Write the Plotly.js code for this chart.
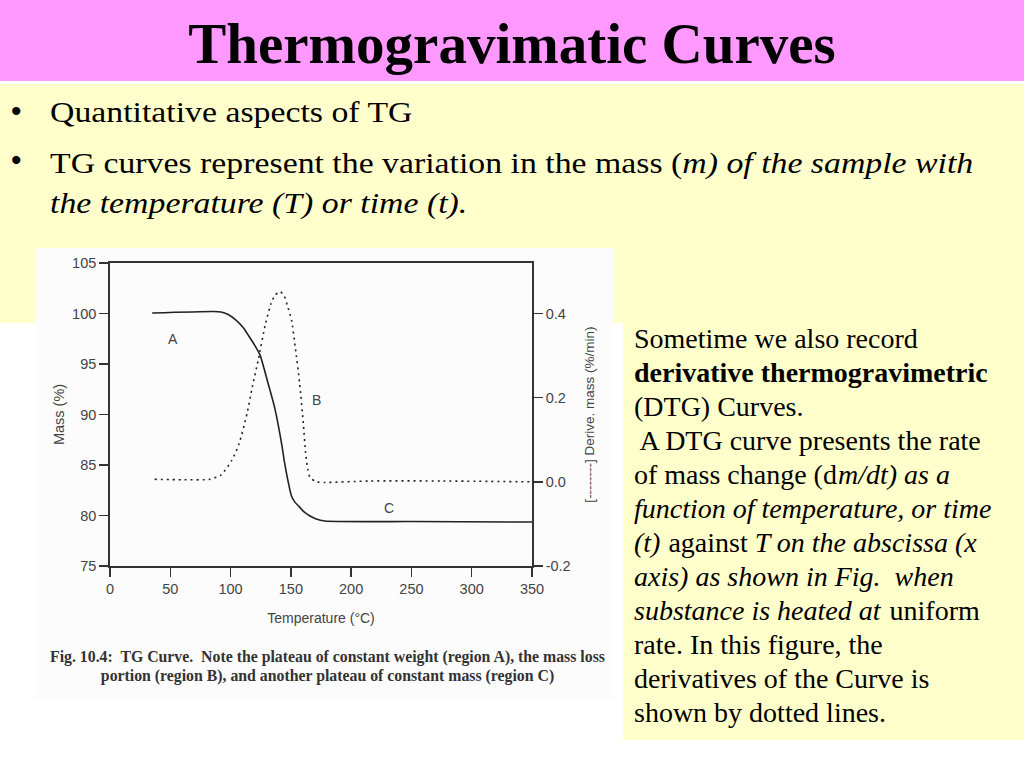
<!DOCTYPE html>
<html>
<head>
<meta charset="utf-8">
<script src="https://cdn.plot.ly/plotly-3.0.1.min.js"></script>
<style>
  html, body { margin: 0; padding: 0; background: #ffffff; }
  #slide { position: relative; width: 1024px; height: 768px; overflow: hidden; background: #ffffff;
           font-family: "Liberation Serif", "Times New Roman", serif; color: #000; }
  .abs { position: absolute; }
  #head { left: 0; top: 0; width: 1024px; height: 81px; background: #ff99ff; }
  #band { left: 0; top: 84px; width: 1024px; height: 239px; background: #ffffcc; }
  #sidebox { left: 623px; top: 322px; width: 401px; height: 418px; background: #ffffcc; }
  #title { left: 0; top: 15px; width: 1024px; text-align: center; font-size: 57px; line-height: 57px; font-weight: bold; }
  .bul { font-family: "Liberation Sans", Arial, sans-serif; font-size: 30px; line-height: 30px; left: 11px; }
  .line { left: 50px; font-size: 29px; line-height: 40px; white-space: pre; transform: scaleX(1.165); transform-origin: left; }
  .sl { left: 634px; font-size: 28px; line-height: 34px; white-space: pre; }
  #chartbox { left: 35px; top: 248px; width: 578px; height: 452px; background: #fcfcfc; }
  #chart { left: 35px; top: 248px; width: 578px; height: 452px; }
  #caption { left: 35px; top: 647px; width: 585px; text-align: center; font-size: 15.8px; line-height: 19px;
             font-weight: bold; color: #333; white-space: pre; }
</style>
</head>
<body>
<div id="slide">
  <div id="head" class="abs"></div>
  <div id="band" class="abs"></div>
  <div id="sidebox" class="abs"></div>
  <div id="title" class="abs">Thermogravimatic Curves</div>

  <div class="abs bul" style="top:96px;">•</div>
  <div class="abs line" style="top:92px;">Quantitative aspects of TG</div>
  <div class="abs bul" style="top:145px;">•</div>
  <div class="abs line" style="top:143px;">TG curves represent the variation in the mass (<i>m) of the sample with</i></div>
  <div class="abs line" style="top:183px;"><i>the temperature (T) or time (t).</i></div>

  <div id="chartbox" class="abs"></div>
  <div id="chart" class="abs"></div>
  <div id="caption" class="abs">Fig. 10.4:  TG Curve.  Note the plateau of constant weight (region A), the mass loss
portion (region B), and another plateau of constant mass (region C)</div>

  <div class="abs sl" style="top:322px;">Sometime we also record</div>
  <div class="abs sl" style="top:356px;"><b>derivative thermogravimetric</b></div>
  <div class="abs sl" style="top:390px;">(DTG) Curves.</div>
  <div class="abs sl" style="top:424px;"> A DTG curve presents the rate</div>
  <div class="abs sl" style="top:458px;">of mass change (d<i style="margin-left:1px;">m/dt) as a</i></div>
  <div class="abs sl" style="top:492px;"><i>function of temperature, or time</i></div>
  <div class="abs sl" style="top:526px;"><i style="margin-right:1px;">(t)</i> against <i>T on the abscissa (x</i></div>
  <div class="abs sl" style="top:560px;"><i>axis) as shown in Fig.  when</i></div>
  <div class="abs sl" style="top:594px;"><i style="margin-right:2px;">substance is heated at</i> uniform</div>
  <div class="abs sl" style="top:628px;">rate. In this figure, the</div>
  <div class="abs sl" style="top:662px;">derivatives of the Curve is</div>
  <div class="abs sl" style="top:696px;">shown by dotted lines.</div>
</div>

<script>
// TG curve: mass (%) vs temperature (C)
var massTemp = [35, 86, 92, 98, 104, 110.6, 115, 119.8, 124.4, 130.6, 136.7, 142.9, 144.4, 147.5, 150.6, 153.5, 156.7, 161, 165.9, 171, 178.2, 250, 350];
var massPct  = [100.05, 100.2, 100.15, 99.9, 99.4, 98.6, 97.8, 96.9, 95.9, 93.3, 90.6, 86.7, 85.5, 83.5, 81.9, 81.3, 80.9, 80.35, 79.95, 79.65, 79.45, 79.4, 79.35];

// DTG curve: derivative mass (%/min) vs temperature (C)
var dtgTemp = [37, 60, 83, 92, 101, 107, 113.7, 118, 122.9, 129, 133.6, 136.7, 141, 144.3, 147, 150.6, 153.6, 157.3, 160.3, 162.2, 164, 166, 171, 178.2, 215, 276, 350];
var dtgRate = [0.006, 0.005, 0.006, 0.016, 0.051, 0.09, 0.163, 0.225, 0.289, 0.376, 0.424, 0.443, 0.452, 0.443, 0.42, 0.384, 0.321, 0.234, 0.14, 0.07, 0.03, 0.01, 0.0, -0.0015, 0.002, 0.002, 0.0];

// region labels
var regionNames = ['A', 'B', 'C'];
var regionTemp  = [52, 171.5, 231];
var regionMass  = [97.5, 91.4, 80.7];

var xTicks  = [0, 50, 100, 150, 200, 250, 300, 350];
var y2Ticks = [-0.2, 0.0, 0.2, 0.4];
var y2Text  = ['-0.2', '0.0', '0.2', '0.4'];

var ink = '#333333';
var fam = 'Liberation Sans, Arial, sans-serif';
var tickFont = {family: fam, size: 14.5, color: '#444444'};
var titleFont = {family: fam, size: 14, color: '#444444'};

var traceMass = {
	x: massTemp, y: massPct, type: 'scatter', mode: 'lines',
	line: {color: '#222222', width: 1.6, shape: 'spline', smoothing: 0.6},
	yaxis: 'y', hoverinfo: 'skip'
};
var traceDtg = {
	x: dtgTemp, y: dtgRate, type: 'scatter', mode: 'lines',
	line: {color: '#222222', width: 1.6, dash: '2px,4px', shape: 'spline', smoothing: 0.6},
	yaxis: 'y2', hoverinfo: 'skip'
};

var notes = [];
for (var i = 0; i < regionNames.length; i++) {
	notes.push({
		x: regionTemp[i], y: regionMass[i], xref: 'x', yref: 'y',
		text: regionNames[i], showarrow: false, font: titleFont
	});
}

var layout = {
	width: 578, height: 452,
	margin: {l: 75, r: 81, t: 15, b: 134},
	paper_bgcolor: 'rgba(0,0,0,0)',
	plot_bgcolor: 'rgba(0,0,0,0)',
	showlegend: false,
	font: tickFont,
	xaxis: {
		range: [0, 350], tickvals: xTicks, ticks: 'outside', ticklen: 9, tickwidth: 1.5, tickcolor: ink,
		showline: true, linecolor: ink, linewidth: 1.8, mirror: true,
		showgrid: false, zeroline: false, tickfont: tickFont, automargin: false,
		title: {text: 'Temperature (°C)', font: titleFont, standoff: 17}
	},
	yaxis: {
		range: [75, 105], dtick: 5, ticks: 'outside', ticklen: 9, tickwidth: 1.5, tickcolor: ink,
		showline: true, linecolor: ink, linewidth: 1.8,
		showgrid: false, zeroline: false, tickfont: tickFont, automargin: false,
		title: {text: 'Mass (%)', font: {family: fam, size: 14.5, color: '#444444'}, standoff: 4}
	},
	yaxis2: {
		range: [-0.2, 0.52], overlaying: 'y', side: 'right',
		tickvals: y2Ticks, ticktext: y2Text, ticks: 'outside', ticklen: 9, tickwidth: 1.5, tickcolor: ink,
		showline: true, linecolor: ink, linewidth: 1.8,
		showgrid: false, zeroline: false, tickfont: tickFont, automargin: false,
		title: {text: '[--------] Derive. mass (%/min)', font: {family: fam, size: 13.5, color: '#444444'}, standoff: 15}
	},
	annotations: notes
};

Plotly.newPlot('chart', [traceMass, traceDtg], layout, {displayModeBar: false, staticPlot: true});
</script>
</body>
</html>
